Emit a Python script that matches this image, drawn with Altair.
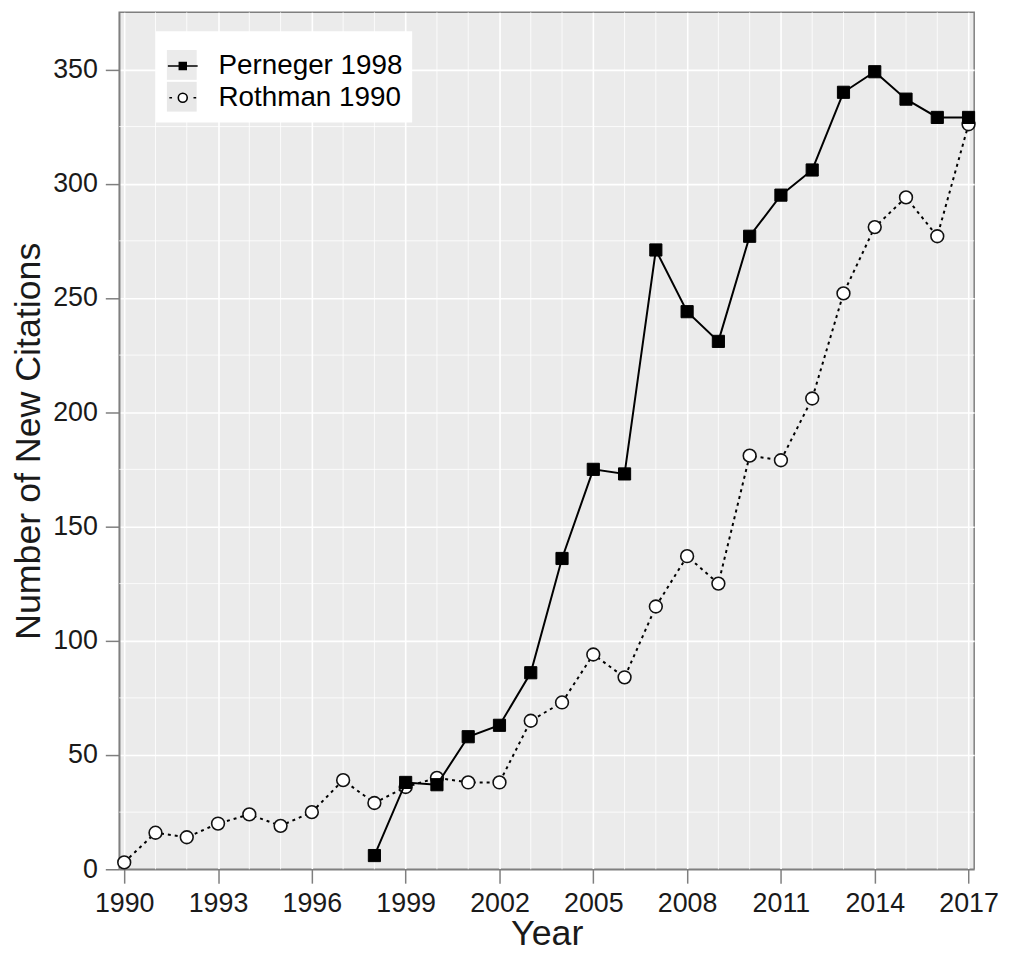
import altair as alt
import pandas as pd

# ---- data ----
years_rothman = list(range(1990, 2018))
rothman = [3, 16, 14, 20, 24, 19, 25, 39, 29, 36, 40, 38, 38, 65, 73, 94, 84,
           115, 137, 125, 181, 179, 206, 252, 281, 294, 277, 326]
years_perneger = list(range(1998, 2018))
perneger = [6, 38, 37, 58, 63, 86, 136, 175, 173, 271, 244, 231, 277, 295, 306,
            340, 349, 337, 329, 329]
series_names = ["Perneger 1998", "Rothman 1990"]
x_ticks = list(range(1990, 2018, 3))
x_minor = [y for y in range(1990, 2018) if y not in x_ticks]
y_ticks = [0, 50, 100, 150, 200, 250, 300, 350]
y_minor = [25, 75, 125, 175, 225, 275, 325]

FONT = "Liberation Sans"

df = pd.concat([
    pd.DataFrame({"year": years_rothman, "value": rothman, "series": series_names[1]}),
    pd.DataFrame({"year": years_perneger, "value": perneger, "series": series_names[0]}),
], ignore_index=True)

xscale = alt.Scale(domain=[1989.84, 2017.18], nice=False, zero=False)
yscale = alt.Scale(domain=[0, 375], nice=False)

X = alt.X("year:Q", scale=xscale,
          axis=alt.Axis(values=x_ticks, format="d", title="Year", labelOverlap=False,
                        labelFlush=False, titlePadding=0))
Y = alt.Y("value:Q", scale=yscale,
          axis=alt.Axis(values=y_ticks, title="Number of New Citations", titlePadding=5))

minor_x = alt.Chart(pd.DataFrame({"year": x_minor})).mark_rule(
    color="white", strokeWidth=0.8).encode(x=alt.X("year:Q", scale=xscale))
minor_y = alt.Chart(pd.DataFrame({"value": y_minor})).mark_rule(
    color="white", strokeWidth=0.8).encode(y=alt.Y("value:Q", scale=yscale))

base = alt.Chart(df).encode(x=X, y=Y)

r_line = base.transform_filter(alt.datum.series == series_names[1]).mark_line(
    color="black", strokeWidth=2, strokeDash=[3, 4])
r_pts = base.transform_filter(alt.datum.series == series_names[1]).mark_point(
    shape="circle", size=165, filled=True, fill="white", stroke="#111", strokeWidth=1.6, opacity=1)
p_line = base.transform_filter(alt.datum.series == series_names[0]).mark_line(
    color="black", strokeWidth=2)
p_pts = base.transform_filter(alt.datum.series == series_names[0]).mark_point(
    shape="square", size=150, filled=True, fill="black", stroke="black", strokeWidth=1, opacity=1)

path_p = "M-1,0H1M-0.23,-0.23H0.23V0.23H-0.23Z"
path_r = ("M-0.9,0H-0.72M0.72,0H0.9"
          "M0.3,0A0.3,0.3,0,1,1,-0.3,0A0.3,0.3,0,1,1,0.3,0Z")

common = dict(orient="none", legendX=37, legendY=19, padding=11, symbolSize=900,
              rowPadding=2, labelFont=FONT, labelFontSize=28, labelLimit=500,
              labelOffset=20, title=" ", titleFontSize=6, titlePadding=2,
              direction="vertical")

leg = alt.Legend(labelColor="black", symbolStrokeColor="black", symbolStrokeWidth=1.6,
                 **common)
key_leg = alt.Legend(fillColor="white", labelColor="transparent", symbolType="square",
                     symbolStrokeWidth=0, **common)

# legend key backgrounds (grey squares) drawn underneath the symbols
key_names = [s + " " for s in series_names]
key_layer = alt.Chart(df).transform_filter("false").mark_square(
    filled=True, size=900, opacity=1).encode(
    color=alt.Color("series:N", scale=alt.Scale(domain=key_names, range=["#EBEBEB", "#E8E8E8"]),
                    legend=key_leg),
)

legend_layer = alt.Chart(df).transform_filter("false").mark_point(
    filled=True, strokeWidth=1.6, size=900, opacity=1).encode(
    shape=alt.Shape("series:N", scale=alt.Scale(domain=series_names, range=[path_p, path_r]), legend=leg),
    fill=alt.Fill("series:N", scale=alt.Scale(domain=series_names, range=["black", "white"]), legend=leg),
    stroke=alt.Stroke("series:N", scale=alt.Scale(domain=series_names, range=["black", "black"]), legend=leg),
)

chart = alt.layer(key_layer, minor_x, minor_y, r_line, r_pts, p_line, p_pts, legend_layer).properties(
    width=861, height=863,
    autosize=alt.AutoSizeParams(type="none"),
    padding={"left": 112, "top": 1, "right": 27, "bottom": 84},
    view=alt.ViewBackground(fill="#EBEBEB", stroke="#7f7f7f", strokeWidth=1.5),
).configure_view(
    fill="#EBEBEB", stroke="#7f7f7f", strokeWidth=1.5
).configure_axis(
    labelFont=FONT, titleFont=FONT, labelFontSize=27, titleFontSize=36,
    labelColor="#1a1a1a", titleColor="#1a1a1a", titleFontWeight="normal",
    tickColor="#7f7f7f", domainColor="#7f7f7f", tickSize=14, tickWidth=1.5,
    domainWidth=1.5, labelPadding=8, grid=True, gridColor="white", gridWidth=1.6,
)

chart.save("out.html", embed_options={"renderer": "svg", "actions": False})
